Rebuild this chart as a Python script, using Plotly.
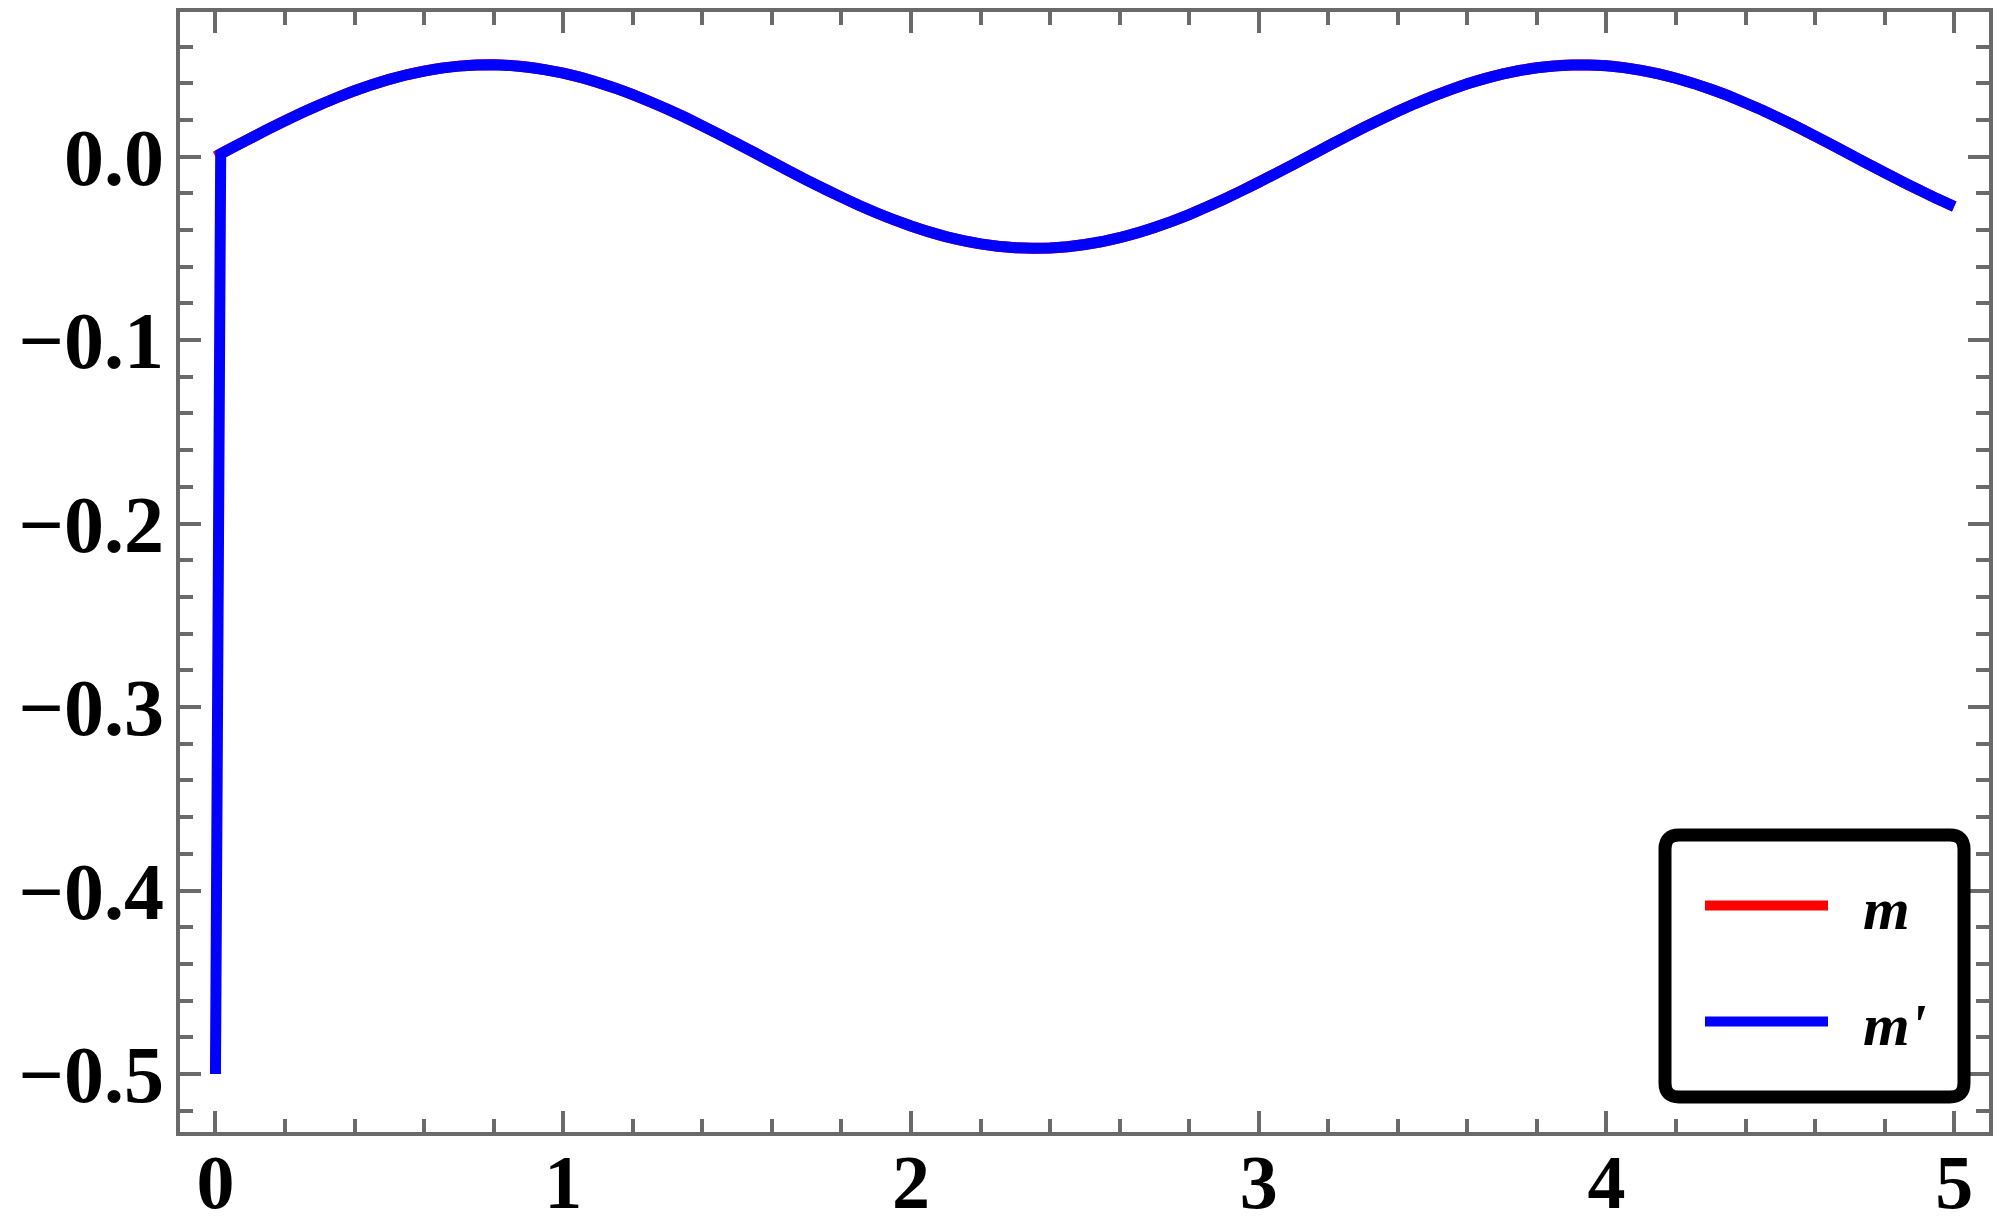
import plotly.graph_objects as go

# sample grid (t) and values
t = [round(0.05 * i, 2) for i in range(101)]

m_vals = [0.0000, 0.0050, 0.0099, 0.0148, 0.0195, 0.0240, 0.0282, 0.0322, 0.0359, 0.0392,
          0.0421, 0.0446, 0.0466, 0.0482, 0.0493, 0.0499, 0.0500, 0.0496, 0.0487, 0.0473,
          0.0455, 0.0432, 0.0404, 0.0373, 0.0338, 0.0299, 0.0258, 0.0214, 0.0167, 0.0120,
          0.0071, 0.0021, -0.0029, -0.0079, -0.0128, -0.0175, -0.0221, -0.0265, -0.0306, -0.0344,
          -0.0378, -0.0409, -0.0436, -0.0458, -0.0476, -0.0489, -0.0497, -0.0500, -0.0498, -0.0491,
          -0.0479, -0.0463, -0.0442, -0.0416, -0.0386, -0.0353, -0.0316, -0.0275, -0.0232, -0.0187,
          -0.0140, -0.0091, -0.0042, 0.0008, 0.0058, 0.0108, 0.0156, 0.0202, 0.0247, 0.0289,
          0.0328, 0.0364, 0.0397, 0.0425, 0.0449, 0.0469, 0.0484, 0.0494, 0.0499, 0.0499,
          0.0495, 0.0485, 0.0470, 0.0451, 0.0427, 0.0399, 0.0367, 0.0332, 0.0292, 0.0251,
          0.0206, 0.0160, 0.0111, 0.0062, 0.0012, -0.0038, -0.0087, -0.0136, -0.0183, -0.0229,
          -0.0272]

# m' : starts at -0.5, rises almost vertically to ~0, then coincides with m
t_prime_start = [0.0, 0.015, 0.02]
mp_start = [-0.500, 0.0015, 0.0020]
t_prime = t_prime_start + t[1:]
mp_vals = mp_start + m_vals[1:]

x_ticks = [0, 1, 2, 3, 4, 5]
y_ticks = [0.0, -0.1, -0.2, -0.3, -0.4, -0.5]
series_names = ["m", "m'"]

FONT = "Liberation Serif"
AX = "#6a6a6a"
OFF = 8  # page body offset of the figure in the browser

fig = go.Figure()
fig.add_trace(go.Scatter(x=t, y=m_vals, mode="lines", name="\u2002" + series_names[0],
                         line=dict(color="#ff0000", width=11, shape="spline", simplify=False),
                         legendgroup="a"))
fig.add_trace(go.Scatter(x=t_prime, y=mp_vals, mode="lines", name="\u2002" + series_names[1],
                         line=dict(color="#0000ff", width=11, shape="linear", simplify=False),
                         legendgroup="b"))

axis_common = dict(
    showgrid=False, zeroline=False, automargin=False,
    showline=True, linecolor=AX, linewidth=4, mirror="ticks",
    ticks="inside", ticklen=21, tickwidth=4, tickcolor=AX,
)

fig.update_xaxes(range=[-0.102, 5.100], tickvals=x_ticks,
                 ticktext=[str(v) for v in x_ticks],
                 tickfont=dict(family=FONT, size=76, color="black", weight="bold"),
                 minor=dict(dtick=0.2, ticklen=13, tickwidth=4, tickcolor=AX, ticks="inside"),
                 ticklabelstandoff=-19,
                 **axis_common)
fig.update_yaxes(range=[-0.5316, 0.0788], tickvals=y_ticks,
                 tickformat=".1f",
                 tickfont=dict(family=FONT, size=80, color="black", weight="bold"),
                 minor=dict(dtick=0.02, ticklen=13, tickwidth=4, tickcolor=AX, ticks="inside"),
                 ticklabelstandoff=-4,
                 **axis_common)

# plot area in screen pixels
L, R, T, B = 180, 14, 12, 96
W, H = 2003, 1228
PW, PH = W - L - R, H - T - B
def px(xs):
    return (xs - L) / PW
def py(ys):
    return (H - B - ys) / PH

# rounded legend frame
x0, x1 = px(1665), px(1964)
y0, y1 = py(1097), py(835)
rx, ry = 14 / PW, 14 / PH
path = (f"M {x0+rx},{y0} L {x1-rx},{y0} Q {x1},{y0} {x1},{y0+ry} "
        f"L {x1},{y1-ry} Q {x1},{y1} {x1-rx},{y1} "
        f"L {x0+rx},{y1} Q {x0},{y1} {x0},{y1-ry} "
        f"L {x0},{y0+ry} Q {x0},{y0} {x0+rx},{y0} Z")
fig.add_shape(type="path", path=path, xref="paper", yref="paper",
              line=dict(color="black", width=13), fillcolor="white", layer="above")

fig.update_layout(
    width=W, height=H,
    margin=dict(l=L - OFF, r=R + OFF, t=T - OFF, b=B + OFF),
    paper_bgcolor="white", plot_bgcolor="white",
    showlegend=True,
    legend=dict(x=px(1700), y=py(860), xanchor="left", yanchor="top",
                bgcolor="rgba(0,0,0,0)", borderwidth=0,
                itemwidth=123, traceorder="grouped", tracegroupgap=35,
                font=dict(family=FONT, size=60, color="black", weight="bold", style="italic")),
)

fig.write_html("out.html")
